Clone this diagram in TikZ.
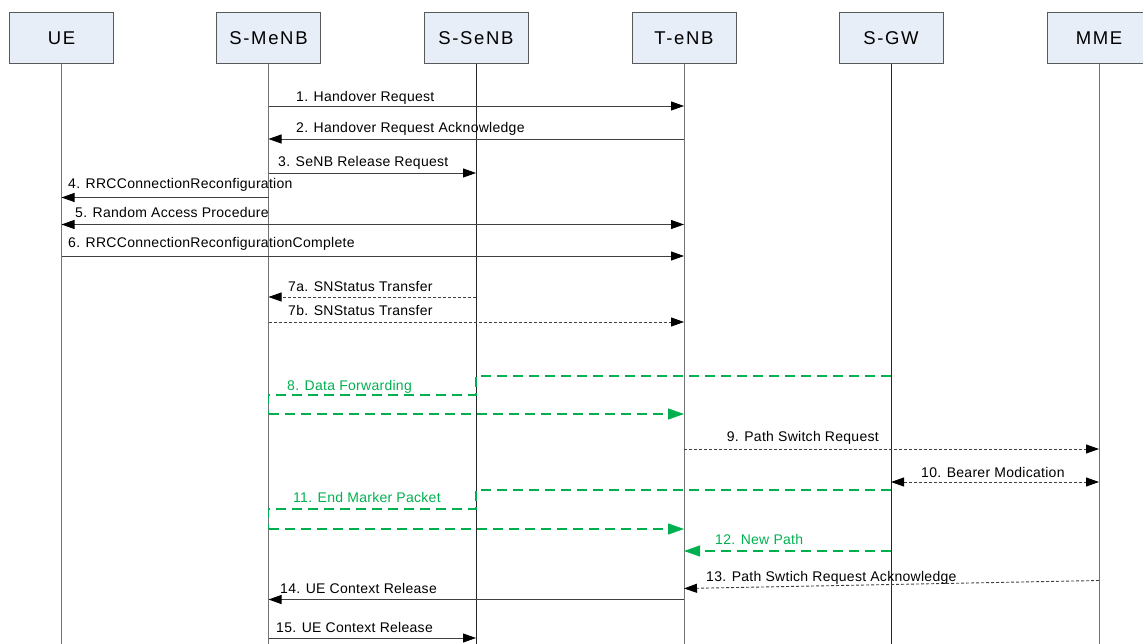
\documentclass[tikz,border=0pt]{standalone}
\usepackage{fontspec}
\setmainfont{Liberation Sans}
\newfontfamily\msgfont[LetterSpace=2]{Liberation Sans}
\newfontfamily\actfont[LetterSpace=9]{Liberation Sans}
\usetikzlibrary{arrows.meta}
\definecolor{boxfill}{HTML}{E8EEF8}
\definecolor{fwdgreen}{HTML}{00B050}
\tikzset{
  actor/.style={draw=black!65, line width=0.9pt, fill=boxfill, minimum width=104pt, minimum height=51pt, inner sep=0pt, font=\actfont\fontsize{18.5}{20}\selectfont},
  life/.style={draw=black!55, line width=1pt},
  lifedark/.style={draw=black!85, line width=1pt},
  tip/.style={-{Triangle[length=13pt,width=9pt,color=black]}},
  btip/.style={{Triangle[length=13pt,width=9pt,color=black]}-{Triangle[length=13pt,width=9pt,color=black]}},
  msg/.style={draw=black!75, line width=0.9pt},
  dmsg/.style={draw=black!75, line width=0.9pt, dash pattern=on 3pt off 2pt},
  gmsg/.style={draw=fwdgreen, line width=1.1pt, dash pattern=on 10pt off 6pt},
  gtip/.style={-{Triangle[length=16pt,width=11pt,color=fwdgreen]}},
  lbl/.style={inner sep=0pt, anchor=base west, font=\msgfont\fontsize{14}{16}\selectfont},
  glbl/.style={lbl, text=fwdgreen}
}
\begin{document}
\begin{tikzpicture}[x=1pt,y=-1pt]
\useasboundingbox (0,0) rectangle (1143,644);
% actors
\node[actor] (ue)   at (61.5,37.8)  {UE};
\node[actor] (menb) at (268.5,37.8) {S-MeNB};
\node[actor] (senb) at (476,37.8)   {S-SeNB};
\node[actor] (tenb) at (684,37.8)   {T-eNB};
\node[actor] (sgw)  at (891,37.8)   {S-GW};
\node[actor] (mme)  at (1099,37.8)  {MME};
\coordinate (bot) at (0,644);
% lifelines
\draw[life]     (ue.south)   -- (ue |- bot);
\draw[life]     (menb.south) -- (menb |- bot);
\draw[lifedark] (senb.south) -- (senb |- bot);
\draw[life]     (tenb.south) -- (tenb |- bot);
\draw[lifedark] (sgw.south)  -- (sgw |- bot);
\draw[life]     (mme.south)  -- (mme |- bot);
% 1
\draw[msg,tip] (menb |- 0,106) -- (tenb |- 0,106);
\node[lbl] (l1) at (296,102) {1. Handover Request};
% 2
\draw[msg,tip] (tenb |- 0,139) -- (menb |- 0,139);
\node[lbl] (l2) at (296,133) {2. Handover Request Acknowledge};
% 3
\draw[msg,tip] (menb |- 0,173) -- (senb |- 0,173);
\node[lbl] (l3) at (278,167) {3. SeNB Release Request};
% 4
\draw[msg,tip] (menb |- 0,197.5) -- (ue |- 0,197.5);
\node[lbl] (l4) at (68,189) {4. RRCConnectionReconfiguration};
% 5
\draw[msg,btip] (ue |- 0,224.5) -- (tenb |- 0,224.5);
\node[lbl] (l5) at (75,218) {5. Random Access Procedure};
% 6
\draw[msg,tip] (ue |- 0,256) -- (tenb |- 0,256);
\node[lbl] (l6) at (68,248) {6. RRCConnectionReconfigurationComplete};
% 7a
\draw[dmsg,tip] (senb |- 0,297) -- (menb |- 0,297);
\node[lbl] (l7a) at (288,291) {7a. SNStatus Transfer};
% 7b
\draw[dmsg,tip] (menb |- 0,322) -- (tenb |- 0,322);
\node[lbl] (l7b) at (288,316) {7b. SNStatus Transfer};
% 8 data forwarding
\draw[gmsg] (sgw |- 0,376) -- (senb |- 0,376) -- (senb |- 0,395) -- (menb |- 0,395) -- (menb |- 0,414);
\draw[gmsg,gtip] (menb |- 0,414) -- (tenb |- 0,414);
\node[glbl] (l8) at (287,390) {8. Data Forwarding};
% 9
\draw[dmsg,tip] (tenb |- 0,449) -- (mme |- 0,449);
\node[lbl,anchor=base east] (l9) at (879,441) {9. Path Switch Request};
% 10
\draw[dmsg,btip] (sgw |- 0,482) -- (mme |- 0,482);
\node[lbl] (l10) at (921,477) {10. Bearer Modication};
% 11 end marker
\draw[gmsg] (sgw |- 0,490) -- (senb |- 0,490) -- (senb |- 0,509) -- (menb |- 0,509) -- (menb |- 0,529);
\draw[gmsg,gtip] (menb |- 0,529) -- (tenb |- 0,529);
\node[glbl] (l11) at (293,502) {11. End Marker Packet};
% 12
\draw[gmsg,gtip] (sgw |- 0,551) -- (tenb |- 0,551);
\node[glbl] (l12) at (715,544) {12. New Path};
% 13
\draw[dmsg,tip] (mme |- 0,580.5) -- (tenb |- 0,588.5);
\node[lbl] (l13) at (706,581) {13. Path Swtich Request Acknowledge};
% 14
\draw[msg,tip] (tenb |- 0,599.5) -- (menb |- 0,599.5);
\node[lbl] (l14) at (280,593) {14. UE Context Release};
% 15
\draw[msg,tip] (menb |- 0,638) -- (senb |- 0,638);
\node[lbl] (l15) at (276,632) {15. UE Context Release};
\end{tikzpicture}
\end{document}
